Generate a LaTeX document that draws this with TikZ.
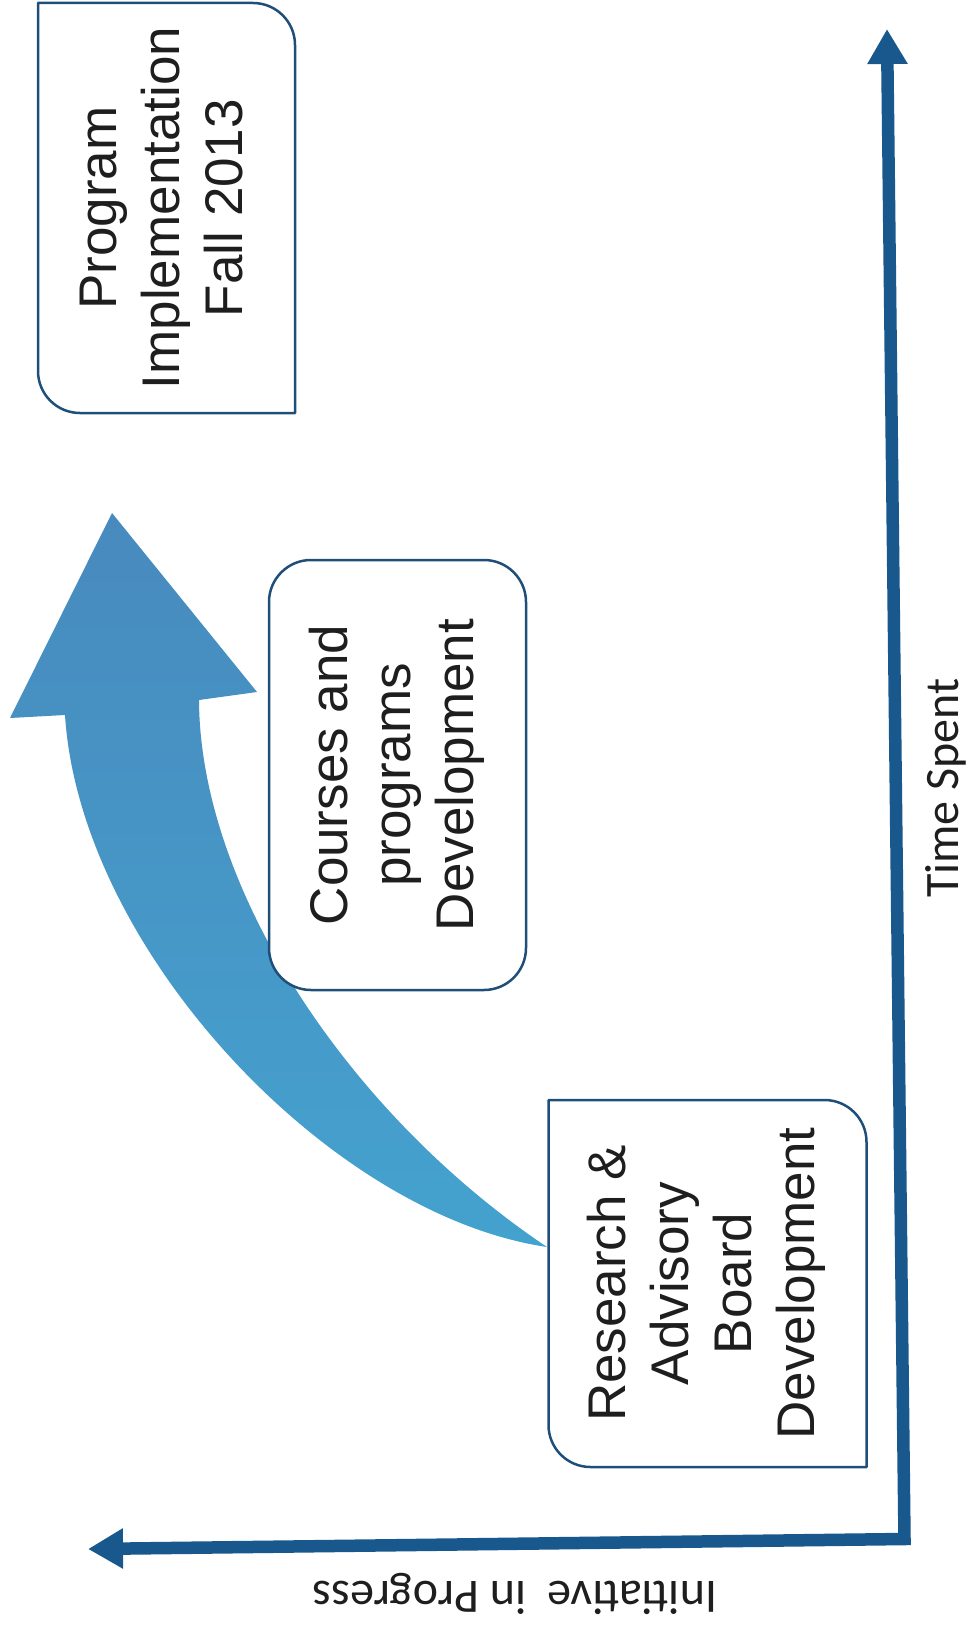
\documentclass[tikz,border=0pt]{standalone}
\usepackage{fontspec}
\newfontfamily\boxfont{Liberation Sans}
\newfontfamily\axisfont{Carlito}
\usetikzlibrary{arrows.meta}
\definecolor{axisblue}{RGB}{24,88,140}
\definecolor{boxline}{RGB}{31,78,121}
\definecolor{headblue}{RGB}{72,138,190}
\definecolor{tailblue}{RGB}{68,162,206}
\definecolor{inkc}{RGB}{30,30,30}
\newcommand{\boxtext}[1]{\rotatebox{90}{\boxfont\fontsize{53}{63}\selectfont\begin{tabular}{@{}c@{}}#1\end{tabular}}}
\tikzset{
  stagebox/.style={inner sep=0pt, outer sep=0pt, text=inkc, align=center},
  boxoutline/.style={draw=boxline, line width=2.5pt, line join=round},
  axisline/.style={draw=axisblue, line width=12.5pt, line join=miter,
    {Triangle[length=35pt,width=38pt]}-{Triangle[length=35pt,width=38pt]}},
  axislabel/.style={font=\axisfont\fontsize{48}{58}\selectfont, text=inkc, inner sep=0pt},
  bigarrow/.style={top color=headblue, bottom color=tailblue, draw=none}
}
\begin{document}
\begin{tikzpicture}[x=1pt,y=1pt]
\useasboundingbox (0,0) rectangle (971,-1637);

% curved progress arrow
\shade[bigarrow] (547,-1247) .. controls (350,-1115) and (200,-890) .. (199,-700)
  -- (257,-692) -- (112,-513) -- (10,-718) -- (65,-715)
  .. controls (80,-950) and (330,-1215) .. (547,-1247) -- cycle;

% stage boxes
\node[stagebox, minimum width=257pt, minimum height=410pt] (b1) at (166.5,-208)
  {\boxtext{Program\\Implementation\\Fall 2013}};
\node[stagebox, minimum width=257pt, minimum height=430pt, boxoutline, fill=white,
  rounded corners=42pt] (b2) at (397.5,-775)
  {\boxtext{Courses and\\programs\\Development}};
\node[stagebox, minimum width=318pt, minimum height=367pt] (b3) at (707.5,-1283.5)
  {\boxtext{Research \&\\Advisory\\Board\\Development}};

\foreach \b in {b1,b3}{
  \draw[boxoutline] (\b.north west) -- ([xshift=-42pt]\b.north east)
    arc[start angle=90, end angle=0, radius=42pt] -- (\b.south east)
    -- ([xshift=42pt]\b.south west)
    arc[start angle=270, end angle=180, radius=42pt] -- cycle;
}

% axes
\coordinate (ytip) at (887,-29);
\coordinate (corner) at (904.5,-1539);
\coordinate (xtip) at (88,-1549);
\draw[axisline] (ytip) -- (corner) -- (xtip);

\node[axislabel, rotate=90] (ts) at (946,-788) {Time Spent};
\node[axislabel, rotate=180] (ip) at (515,-1594) {Initiative\ \ in Progress};
\end{tikzpicture}
\end{document}
